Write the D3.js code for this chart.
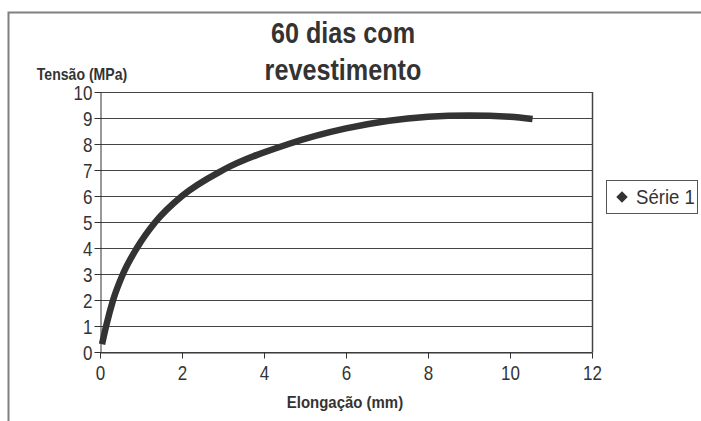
<!DOCTYPE html>
<html><head><meta charset="utf-8">
<script src="https://cdn.jsdelivr.net/npm/d3@7"></script>
<style>body{margin:0;background:#fff;} svg{display:block;}</style>
</head><body>
<script>
const titleLines = ["60 dias com", "revestimento"];
const yAxisTitle = "Tensão (MPa)";
const xAxisTitle = "Elongação (mm)";
const seriesName = "Série 1";
const xTicks = [0, 2, 4, 6, 8, 10, 12];
const yTicks = [0, 1, 2, 3, 4, 5, 6, 7, 8, 9, 10];
const elong = [0.05, 0.15, 0.32, 0.56, 0.9, 1.35, 2.0, 3.0, 4.6, 6.0, 8.0, 9.0, 10.0, 10.55];
const tensao = [0.3, 1.0, 2.0, 3.0, 4.0, 5.0, 6.0, 7.0, 8.0, 8.6, 9.05, 9.1, 9.05, 8.96];

const W = 701, H = 421;
const font = "'Liberation Sans',Arial,sans-serif";
const svg = d3.select("body").append("svg").attr("width", W).attr("height", H);

function ctext(parent, x, y, k, size, weight, anchor, str) {
  return parent.append("text").attr("transform", `translate(${x},${y}) scale(${k},1)`)
    .attr("text-anchor", anchor).attr("fill", "#333")
    .style("font-family", font).style("font-size", size + "px").style("font-weight", weight).text(str);
}

// outer frame
svg.append("path").attr("d", `M8.5,${H} V12.5 H${W}`).attr("fill", "none").attr("stroke", "#808080").attr("stroke-width", 2);

const x = d3.scaleLinear().domain([0, 12]).range([100, 592]);
const y = d3.scaleLinear().domain([0, 10]).range([352, 92]);

// grid
svg.append("g").selectAll("line").data(yTicks).join("line")
  .attr("x1", x(0)).attr("x2", x(12)).attr("y1", d => Math.round(y(d)) + 0.5).attr("y2", d => Math.round(y(d)) + 0.5)
  .attr("stroke", "#444").attr("stroke-width", 1);
svg.append("line").attr("x1", 592.5).attr("x2", 592.5).attr("y1", 92).attr("y2", 352.5).attr("stroke", "#444").attr("stroke-width", 1.5);

// axes
const k = 0.85;
const xAxis = d3.axisBottom(x).tickValues(xTicks).tickSize(6).tickSizeOuter(0).tickFormat(d3.format("d"));
const gx = svg.append("g").attr("transform", `translate(0,${Math.round(y(0)) + 0.5})`).call(xAxis);
const yAxis = d3.axisLeft(y).tickValues(yTicks).tickSize(6).tickSizeOuter(0).tickFormat(d3.format("d"));
const gy = svg.append("g").attr("transform", `translate(${x(0) + 0.5},0)`).call(yAxis);
[gx, gy].forEach(g => {
  g.selectAll("path,line").attr("stroke", "#333");
  g.selectAll("text").attr("fill", "#333").style("font-family", font).style("font-size", "20px")
    .attr("transform", `scale(${k},1)`);
});
gx.selectAll("text").attr("y", 13).attr("dy", "0.75em");
gy.selectAll("text").attr("x", -8 / k).attr("dy", "0.35em");

// curve
const pts = elong.map((e, i) => [e, tensao[i]]);
svg.append("path").datum(pts)
  .attr("d", d3.line().x(d => x(d[0])).y(d => y(d[1])).curve(d3.curveMonotoneX))
  .attr("fill", "none").attr("stroke", "#333").attr("stroke-width", 6.5);

// titles
titleLines.forEach((t, i) => ctext(svg, 343, 43 + i * 37, 0.84, 30, "bold", "middle", t));
ctext(svg, 82, 80, 0.88, 16, "bold", "middle", yAxisTitle);
ctext(svg, 345, 408, 0.88, 17, "bold", "middle", xAxisTitle);

// legend
const lg = svg.append("g");
lg.append("rect").attr("x", 606.5).attr("y", 180.5).attr("width", 91).attr("height", 33)
  .attr("fill", "#fff").attr("stroke", "#555").attr("stroke-width", 1);
lg.append("path").attr("d", d3.symbol().type(d3.symbolDiamond2).size(85)())
  .attr("transform", "translate(622,197)").attr("fill", "#333");
ctext(lg, 636, 204, 0.93, 20, "normal", "start", seriesName);
</script>
</body></html>
